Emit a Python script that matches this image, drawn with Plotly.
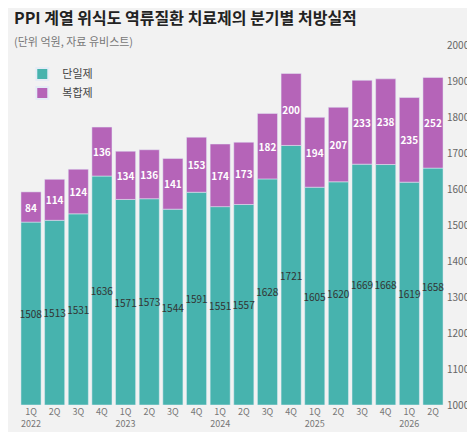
import plotly.graph_objects as go

quarters = ["1Q","2Q","3Q","4Q"]*4 + ["1Q","2Q"]
years = ["2022","","","","2023","","","","2024","","","","2025","","","","2026",""]
single = [1508,1513,1531,1636,1571,1573,1544,1591,1551,1557,1628,1721,1605,1620,1669,1668,1619,1658]
combo = [84,114,124,136,134,136,141,153,174,173,182,200,194,207,233,238,235,252]
ticks = [f"{q}<br>{y}" if y else q for q, y in zip(quarters, years)]
x = list(range(len(single)))
base = 1000

fig = go.Figure()
fig.add_bar(x=x, y=[s-base for s in single], base=base, name="단일제",
            marker_color="#47b3ae", text=[str(s) for s in single], textposition="inside",
            insidetextanchor="middle", textangle=0,
            textfont=dict(color="#333", size=10, family="Noto Sans CJK KR"))
fig.add_bar(x=x, y=combo, base=single, name="복합제", marker_color="#b564b8",
            text=[f"<b>{c}</b>" for c in combo], textposition="inside", insidetextanchor="middle",
            textangle=0, textfont=dict(color="white", size=10, family="Noto Sans CJK KR"))
fig.update_layout(
    width=475, height=432, barmode="overlay", bargap=0.15,
    paper_bgcolor="#f2f2f2", plot_bgcolor="#f2f2f2",
    margin=dict(l=10, r=37, t=37, b=31),
    font=dict(family="Noto Sans CJK KR", color="#555", size=11),
    showlegend=True,
    legend=dict(x=0.01, y=0.96, xanchor="left", yanchor="top", bgcolor="rgba(0,0,0,0)",
                font=dict(size=11, color="#444"), itemsizing="constant", tracegroupgap=10),
    xaxis=dict(tickmode="array", tickvals=x, ticktext=ticks, showgrid=False,
               tickfont=dict(size=9, color="#777"), range=[-0.55, 17.55]),
    yaxis=dict(side="right", range=[1000, 2000], dtick=100, showgrid=False,
               tickfont=dict(size=10, color="#666")),
    uniformtext=dict(minsize=8, mode="show"),
)
fig.add_annotation(text="<b>PPI 계열 위식도 역류질환 치료제의 분기별 처방실적</b>", x=0.0, y=1.0,
                   xref="paper", yref="paper", xanchor="left", yanchor="bottom", yshift=14,
                   showarrow=False, font=dict(size=16, color="#222"), xshift=-6)
fig.add_annotation(text="(단위 억원, 자료 유비스트)", x=0.0, y=1.0, xref="paper", yref="paper",
                   xanchor="left", yanchor="bottom", yshift=-6, xshift=-6,
                   showarrow=False, font=dict(size=11, color="#777"))
fig.write_html("out.html")
